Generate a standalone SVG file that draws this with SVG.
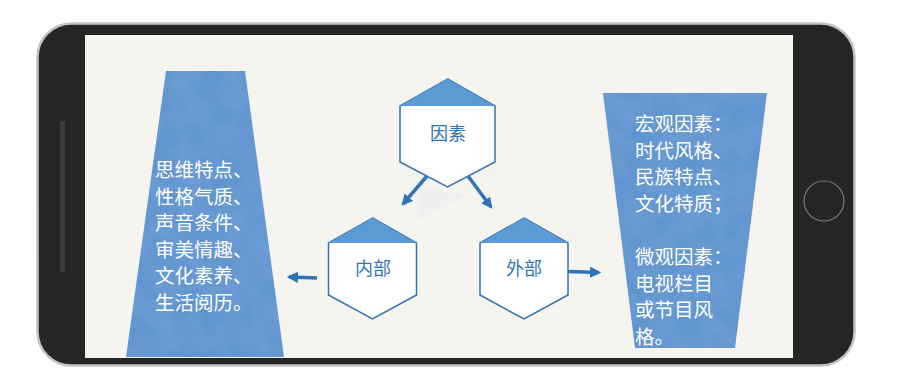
<svg xmlns="http://www.w3.org/2000/svg" width="918" height="389" viewBox="0 0 918 389">
<style>
.hexbody{fill:#ffffff;stroke:#2e75b6;stroke-width:1.5}
.hextop{fill:#5b9bd5}
.hl{font-family:"Noto Sans CJK SC","Liberation Sans",sans-serif;font-size:18px;fill:#2e75b6;text-anchor:middle}
.tt{font-family:"Noto Sans CJK SC","Liberation Sans",sans-serif;font-size:19.5px;fill:#ffffff}
.conn{stroke:#2e75b6;stroke-width:3.5;fill:none}
.trap{fill:#5a93d0}
</style>
<defs>
<marker id="ah" viewBox="0 0 10 10" refX="8" refY="5" markerWidth="3.2" markerHeight="3.2" orient="auto" markerUnits="strokeWidth">
<path d="M0,0 L10,5 L0,10 z" fill="#2e75b6"/>
</marker>
<filter id="tex" x="0" y="0" width="1" height="1">
<feTurbulence type="fractalNoise" baseFrequency="0.04" numOctaves="3" seed="4" result="n"/>
<feColorMatrix in="n" type="matrix" values="0 0 0 0 1  0 0 0 0 1  0 0 0 0 1  0 0 0 0.07 0" result="w"/>
<feComposite in="w" in2="SourceGraphic" operator="in" result="wc"/>
<feMerge><feMergeNode in="SourceGraphic"/><feMergeNode in="wc"/></feMerge>
</filter>
</defs>
<g id="phone">
<rect x="37.5" y="23.5" width="817" height="342" rx="34" ry="34" fill="#262626" stroke="#c2c2c2" stroke-width="2.5"/>
<rect x="85" y="35" width="708" height="323" fill="#f6f4ef"/>
<rect x="60" y="121" width="5" height="151" fill="#3c3c3c"/>
<circle cx="824" cy="201" r="20" fill="none" stroke="#7a7a7a" stroke-width="1.2"/>
</g>
<polygon points="420,188 467,195 420,220" fill="#eeeff1"/>
<g id="left-box">
<polygon class="trap" filter="url(#tex)" points="166,71 245,71 284,357 126,357"/>
<text class="tt" x="155" y="177">思维特点、</text>
<text class="tt" x="155" y="203.5">性格气质、</text>
<text class="tt" x="155" y="230">声音条件、</text>
<text class="tt" x="155" y="256.5">审美情趣、</text>
<text class="tt" x="155" y="283">文化素养、</text>
<text class="tt" x="155" y="309.5">生活阅历。</text>
</g>
<g id="right-box">
<polygon class="trap" filter="url(#tex)" points="603,93 767,93 735,348 635,348"/>
<text class="tt" x="635" y="131">宏观因素：</text>
<text class="tt" x="635" y="157.5">时代风格、</text>
<text class="tt" x="635" y="184">民族特点、</text>
<text class="tt" x="635" y="210.5">文化特质；</text>
<text class="tt" x="635" y="264">微观因素：</text>
<text class="tt" x="635" y="290.5">电视栏目</text>
<text class="tt" x="635" y="317">或节目风</text>
<text class="tt" x="635" y="343.5">格。</text>
</g>
<g id="connectors">
<line class="conn" x1="427" y1="176" x2="403" y2="204" marker-end="url(#ah)"/>
<line class="conn" x1="468" y1="176" x2="491" y2="207" marker-end="url(#ah)"/>
<line class="conn" x1="317" y1="278" x2="289" y2="277" marker-end="url(#ah)"/>
<line class="conn" x1="568" y1="271.5" x2="599" y2="272.5" marker-end="url(#ah)"/>
</g>
<g id="node-yinsu">
<polygon class="hexbody" points="447.5,79 495,106 495,162 447.5,187 400,162 400,106"/>
<polygon class="hextop" points="447.5,79 495,106 400,106"/>
<text class="hl" x="448" y="140">因素</text>
</g>
<g id="node-neibu">
<polygon class="hexbody" points="372.5,218 416.5,243 416.5,295 372.5,319 328.5,295 328.5,243"/>
<polygon class="hextop" points="372.5,218 416.5,243 328.5,243"/>
<text class="hl" x="373" y="275">内部</text>
</g>
<g id="node-waibu">
<polygon class="hexbody" points="524,218 568,243 568,295 524,319 480,295 480,243"/>
<polygon class="hextop" points="524,218 568,243 480,243"/>
<text class="hl" x="524" y="275">外部</text>
</g>
</svg>
